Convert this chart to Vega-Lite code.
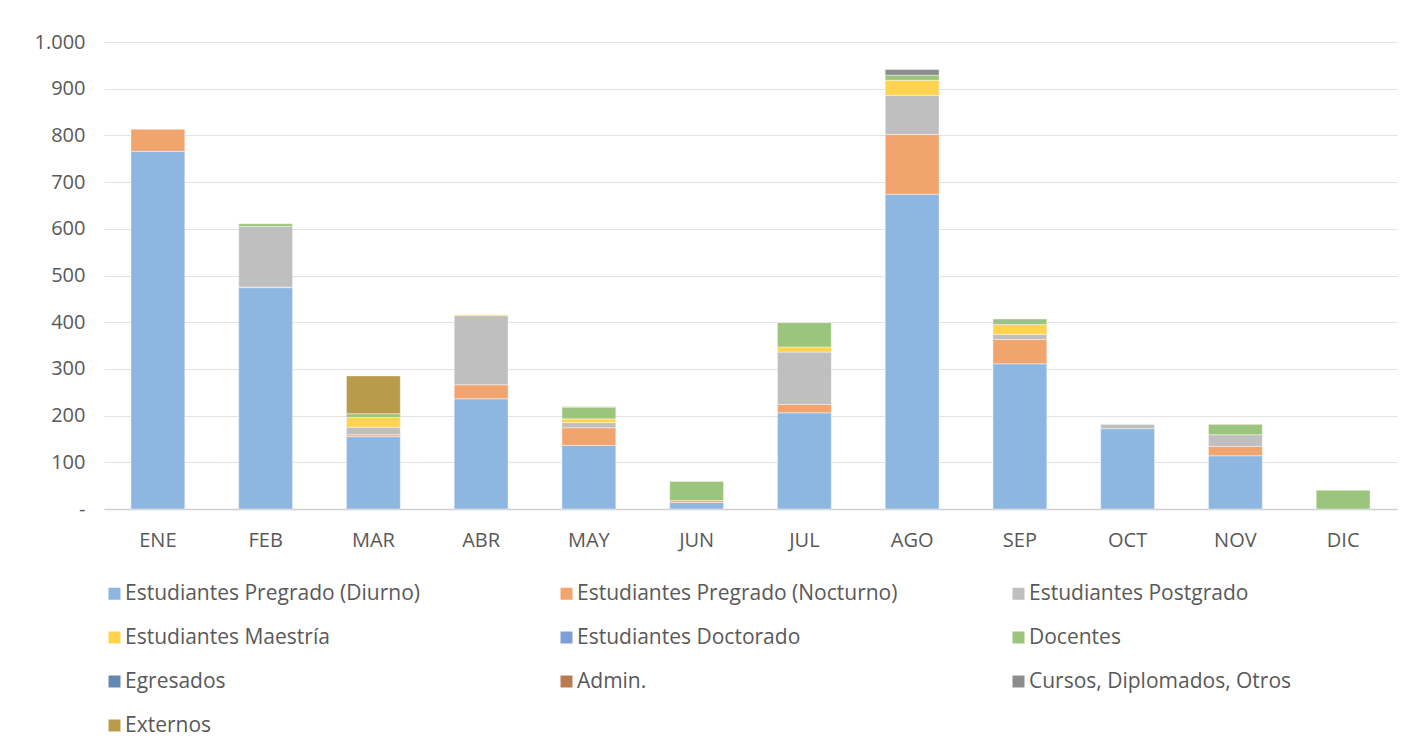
{
  "$schema": "https://vega.github.io/schema/vega-lite/v6.json",
  "width": 1293,
  "height": 467,
  "autosize": "none",
  "padding": {"left": 104, "top": 42, "right": 22, "bottom": 245},
  "background": "white",
  "config": {
    "view": {"stroke": null},
    "font": "Open Sans",
    "axis": {"labelFont": "Open Sans", "labelColor": "#595959"},
    "legend": {"labelFont": "Open Sans", "labelColor": "#595959"}
  },
  "data": {
    "values": [
      {"mes": "ENE", "grupo": "Estudiantes Pregrado (Diurno)", "valor": 766},
      {"mes": "ENE", "grupo": "Estudiantes Pregrado (Nocturno)", "valor": 47},
      {"mes": "FEB", "grupo": "Estudiantes Pregrado (Diurno)", "valor": 474},
      {"mes": "FEB", "grupo": "Estudiantes Pregrado (Nocturno)", "valor": 1},
      {"mes": "FEB", "grupo": "Estudiantes Postgrado", "valor": 130},
      {"mes": "FEB", "grupo": "Docentes", "valor": 6},
      {"mes": "MAR", "grupo": "Estudiantes Pregrado (Diurno)", "valor": 155},
      {"mes": "MAR", "grupo": "Estudiantes Pregrado (Nocturno)", "valor": 4},
      {"mes": "MAR", "grupo": "Estudiantes Postgrado", "valor": 16},
      {"mes": "MAR", "grupo": "Estudiantes Maestría", "valor": 21},
      {"mes": "MAR", "grupo": "Docentes", "valor": 8},
      {"mes": "MAR", "grupo": "Externos", "valor": 81},
      {"mes": "ABR", "grupo": "Estudiantes Pregrado (Diurno)", "valor": 236},
      {"mes": "ABR", "grupo": "Estudiantes Pregrado (Nocturno)", "valor": 30},
      {"mes": "ABR", "grupo": "Estudiantes Postgrado", "valor": 148},
      {"mes": "ABR", "grupo": "Estudiantes Maestría", "valor": 2},
      {"mes": "MAY", "grupo": "Estudiantes Pregrado (Diurno)", "valor": 136},
      {"mes": "MAY", "grupo": "Estudiantes Pregrado (Nocturno)", "valor": 38},
      {"mes": "MAY", "grupo": "Estudiantes Postgrado", "valor": 11},
      {"mes": "MAY", "grupo": "Estudiantes Maestría", "valor": 8},
      {"mes": "MAY", "grupo": "Docentes", "valor": 25},
      {"mes": "MAY", "grupo": "Cursos, Diplomados, Otros", "valor": 1},
      {"mes": "JUN", "grupo": "Estudiantes Pregrado (Diurno)", "valor": 14},
      {"mes": "JUN", "grupo": "Estudiantes Pregrado (Nocturno)", "valor": 4},
      {"mes": "JUN", "grupo": "Docentes", "valor": 41},
      {"mes": "JUL", "grupo": "Estudiantes Pregrado (Diurno)", "valor": 206},
      {"mes": "JUL", "grupo": "Estudiantes Pregrado (Nocturno)", "valor": 18},
      {"mes": "JUL", "grupo": "Estudiantes Postgrado", "valor": 112},
      {"mes": "JUL", "grupo": "Estudiantes Maestría", "valor": 11},
      {"mes": "JUL", "grupo": "Docentes", "valor": 52},
      {"mes": "AGO", "grupo": "Estudiantes Pregrado (Diurno)", "valor": 674},
      {"mes": "AGO", "grupo": "Estudiantes Pregrado (Nocturno)", "valor": 128},
      {"mes": "AGO", "grupo": "Estudiantes Postgrado", "valor": 84},
      {"mes": "AGO", "grupo": "Estudiantes Maestría", "valor": 32},
      {"mes": "AGO", "grupo": "Docentes", "valor": 11},
      {"mes": "AGO", "grupo": "Cursos, Diplomados, Otros", "valor": 12},
      {"mes": "SEP", "grupo": "Estudiantes Pregrado (Diurno)", "valor": 311},
      {"mes": "SEP", "grupo": "Estudiantes Pregrado (Nocturno)", "valor": 52},
      {"mes": "SEP", "grupo": "Estudiantes Postgrado", "valor": 11},
      {"mes": "SEP", "grupo": "Estudiantes Maestría", "valor": 21},
      {"mes": "SEP", "grupo": "Docentes", "valor": 12},
      {"mes": "OCT", "grupo": "Estudiantes Pregrado (Diurno)", "valor": 172},
      {"mes": "OCT", "grupo": "Estudiantes Postgrado", "valor": 9},
      {"mes": "OCT", "grupo": "Docentes", "valor": 1},
      {"mes": "NOV", "grupo": "Estudiantes Pregrado (Diurno)", "valor": 114},
      {"mes": "NOV", "grupo": "Estudiantes Pregrado (Nocturno)", "valor": 20},
      {"mes": "NOV", "grupo": "Estudiantes Postgrado", "valor": 25},
      {"mes": "NOV", "grupo": "Docentes", "valor": 22},
      {"mes": "NOV", "grupo": "Admin.", "valor": 1},
      {"mes": "DIC", "grupo": "Docentes", "valor": 40}
    ]
  },
  "transform": [
    {
      "calculate": "indexof(['Estudiantes Pregrado (Diurno)', 'Estudiantes Pregrado (Nocturno)', 'Estudiantes Postgrado', 'Estudiantes Maestría', 'Estudiantes Doctorado', 'Docentes', 'Egresados', 'Admin.', 'Cursos, Diplomados, Otros', 'Externos'], datum.grupo)",
      "as": "orden"
    }
  ],
  "mark": {"type": "bar", "stroke": "white", "strokeWidth": 0.6, "strokeOpacity": 0.7},
  "encoding": {
    "x": {
      "field": "mes",
      "type": "nominal",
      "sort": ["ENE", "FEB", "MAR", "ABR", "MAY", "JUN", "JUL", "AGO", "SEP", "OCT", "NOV", "DIC"],
      "scale": {"paddingInner": 0.5, "paddingOuter": 0.25},
      "axis": {
        "title": null,
        "labelAngle": 0,
        "labelFontSize": 20,
        "labelPadding": 21,
        "ticks": false,
        "domainColor": "#d0d0d0",
        "domainWidth": 1.5,
        "grid": false
      }
    },
    "y": {
      "field": "valor",
      "type": "quantitative",
      "aggregate": "sum",
      "stack": "zero",
      "scale": {"domain": [0, 1000], "nice": false},
      "axis": {
        "title": null,
        "values": [0, 100, 200, 300, 400, 500, 600, 700, 800, 900, 1000],
        "labelExpr": "datum.value == 0 ? '-' : replace(format(datum.value, ','), ',', '.')",
        "labelFontSize": 20,
        "labelPadding": 19,
        "ticks": false,
        "domain": false,
        "gridColor": "#e3e3e3",
        "gridWidth": 1.2
      }
    },
    "order": {"field": "orden", "type": "quantitative", "sort": "ascending"},
    "color": {
      "field": "grupo",
      "type": "nominal",
      "scale": {
        "domain": [
          "Estudiantes Pregrado (Diurno)",
          "Estudiantes Pregrado (Nocturno)",
          "Estudiantes Postgrado",
          "Estudiantes Maestría",
          "Estudiantes Doctorado",
          "Docentes",
          "Egresados",
          "Admin.",
          "Cursos, Diplomados, Otros",
          "Externos"
        ],
        "range": ["#8db7e1", "#f2a46f", "#bfbfbf", "#ffd34d", "#7e9fd7", "#9bc57d", "#6389b2", "#b97c52", "#8c8c8c", "#b89c4b"]
      },
      "legend": {
        "title": null,
        "orient": "none",
        "legendX": 0,
        "legendY": 541,
        "direction": "horizontal",
        "columns": 3,
        "gridAlign": "all",
        "columnPadding": 110,
        "rowPadding": 22,
        "padding": 0,
        "symbolType": "square",
        "symbolSize": 144,
        "symbolStrokeWidth": 0,
        "symbolOpacity": 1,
        "labelFontSize": 21,
        "labelOffset": 0,
        "labelLimit": 500
      }
    }
  }
}
